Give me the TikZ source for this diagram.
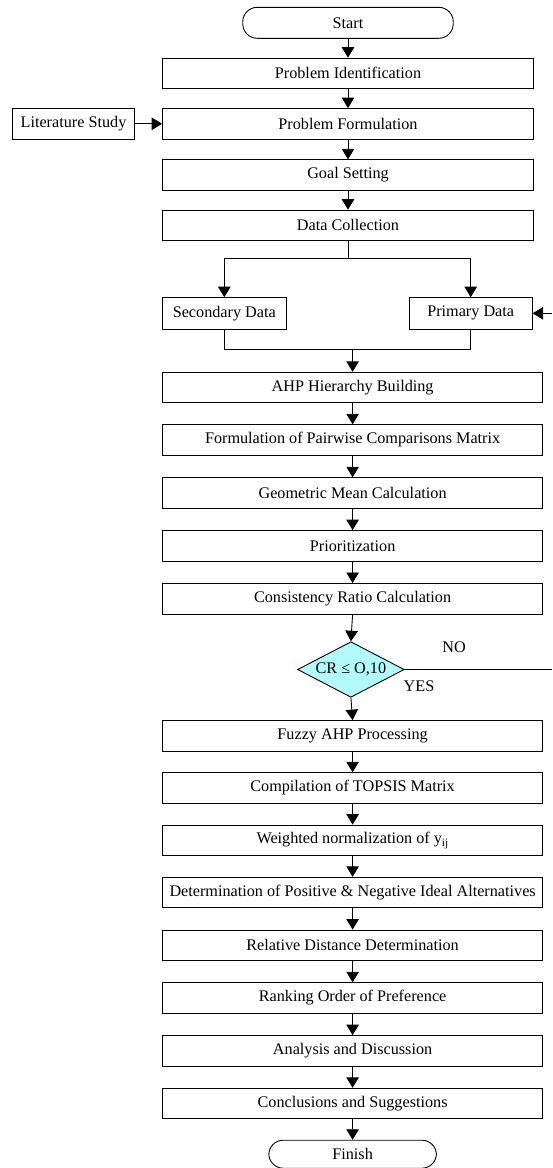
\documentclass[tikz,border=0pt]{standalone}
\usepackage{fontspec}
\setmainfont{Liberation Serif}
\usetikzlibrary{shapes.geometric,arrows.meta}
\begin{document}
\begin{tikzpicture}[x=1pt,y=-1pt,
 box/.style={draw,line width=0.9pt,minimum height=30.5pt,inner sep=0pt,font=\fontsize{16.2}{18}\selectfont},
 topbox/.style={box,minimum width=370.8pt},
 lowbox/.style={box,minimum width=380pt},
 term/.style={box,rounded corners=14.5pt},
 arr/.style={line width=0.9pt,-{Triangle[length=10.5pt,width=12.5pt]}},
 ln/.style={line width=0.9pt},
 lbl/.style={inner sep=0pt,font=\fontsize{16.2}{18}\selectfont}]
\useasboundingbox (0,0) rectangle (552,1168);
\node[term,minimum width=210.5pt,minimum height=31pt] (start) at (348,22.8) {Start};
\node[topbox] (pi) at (348,73.3) {Problem Identification};
\node[topbox] (pf) at (348,123.8) {Problem Formulation};
\node[box,minimum width=122.5pt,minimum height=31pt] (lit) at (73.5,123.8) {Literature Study};
\node[topbox] (gs) at (348,175) {Goal Setting};
\node[topbox] (dc) at (348,225.3) {Data Collection};
\node[box,minimum width=123.4pt,minimum height=31.3pt] (sec) at (224.3,313.3) {Secondary Data};
\node[box,minimum width=123pt,minimum height=31.3pt] (prim) at (470.7,313.3) {Primary Data};
\node[lowbox] (ahp) at (352.6,387.5) {AHP Hierarchy Building};
\node[lowbox] (form) at (352.6,440) {Formulation of Pairwise Comparisons Matrix};
\node[lowbox] (geo) at (352.6,493) {Geometric Mean Calculation};
\node[lowbox] (prio) at (352.6,545.8) {Prioritization};
\node[lowbox] (cons) at (352.6,598.7) {Consistency Ratio Calculation};
\node[diamond,draw,line width=0.9pt,fill={rgb,255:red,178;green,250;blue,250},aspect=1.9,inner sep=0pt,minimum width=106.7pt,minimum height=55.6pt,font=\fontsize{16.2}{18}\selectfont] (cr) at (350.9,669.5) {CR ≤ O,10};
\node[lowbox] (fuzzy) at (352.6,735.8) {Fuzzy AHP Processing};
\node[lowbox] (comp) at (352.6,788) {Compilation of TOPSIS Matrix};
\node[lowbox] (wt) at (352.6,840.3) {Weighted normalization of y\textsubscript{ij}};
\node[lowbox] (det) at (352.6,892.5) {Determination of Positive \& Negative Ideal Alternatives};
\node[lowbox] (rel) at (352.6,945.3) {Relative Distance Determination};
\node[lowbox] (rank) at (352.6,998) {Ranking Order of Preference};
\node[lowbox] (anal) at (352.6,1050.8) {Analysis and Discussion};
\node[lowbox] (conc) at (352.6,1103.5) {Conclusions and Suggestions};
\node[term,minimum width=167.6pt,minimum height=28pt] (fin) at (352.6,1154.2) {Finish};
\node[lbl] (no) at (454,647.7) {NO};
\node[lbl] (yes) at (419,686.7) {YES};
\coordinate (split) at (348,258.3);
\coordinate (merge) at (352.6,349.3);
\coordinate (noend) at (552,669.5);
\coordinate (primin) at (552,313.3);
% connectors
\draw[arr] (start) -- (pi);
\draw[arr] (pi) -- (pf);
\draw[arr] (lit) -- (pf);
\draw[arr] (pf) -- (gs);
\draw[arr] (gs) -- (dc);
\draw[ln] (dc.south) -- (split);
\draw[arr] (split) -| (sec.north);
\draw[arr] (split) -| (prim.north);
\draw[ln] (sec.south) |- (merge);
\draw[ln] (prim.south) |- (merge);
\draw[arr] (merge) -- (ahp.north);
\draw[arr] (ahp) -- (form);
\draw[arr] (form) -- (geo);
\draw[arr] (geo) -- (prio);
\draw[arr] (prio) -- (cons);
\draw[arr] (cons.south) -- (cr.north);
\draw[arr] (cr.south) -- (fuzzy.north);
\draw[ln] (cr.east) -- (noend);
\draw[arr] (primin) -- (prim.east);
\draw[arr] (fuzzy) -- (comp);
\draw[arr] (comp) -- (wt);
\draw[arr] (wt) -- (det);
\draw[arr] (det) -- (rel);
\draw[arr] (rel) -- (rank);
\draw[arr] (rank) -- (anal);
\draw[arr] (anal) -- (conc);
\draw[arr] (conc) -- (fin);
\end{tikzpicture}
\end{document}
